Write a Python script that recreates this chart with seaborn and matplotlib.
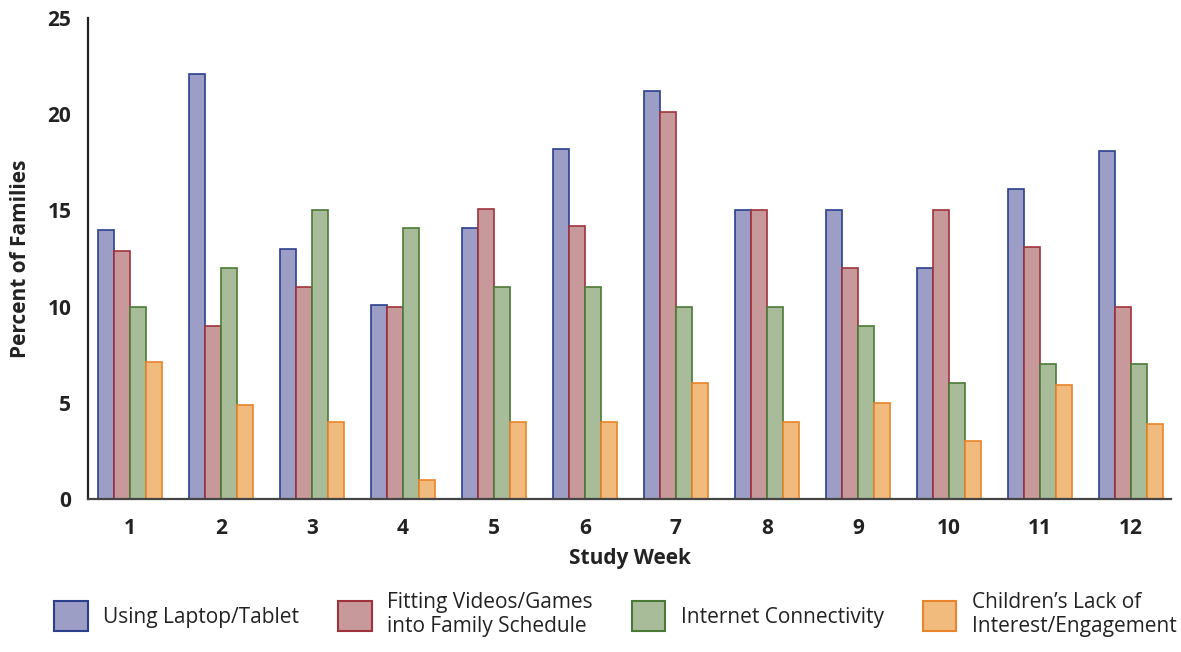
import pandas as pd
import numpy as np
import matplotlib
matplotlib.use("Agg")
import matplotlib.pyplot as plt
import seaborn as sns

weeks = [str(w) for w in range(1, 13)]
laptop = [14.0, 22.1, 13.0, 10.1, 14.1, 18.2, 21.2, 15.0, 15.0, 12.0, 16.1, 18.1]
schedule = [12.9, 9.0, 11.0, 10.0, 15.1, 14.2, 20.1, 15.0, 12.0, 15.0, 13.1, 10.0]
internet = [10.0, 12.0, 15.0, 14.1, 11.0, 11.0, 10.0, 10.0, 9.0, 6.0, 7.0, 7.0]
interest = [7.1, 4.9, 4.0, 1.0, 4.0, 4.0, 6.0, 4.0, 5.0, 3.0, 5.9, 3.9]

series = ["Using Laptop/Tablet", "Fitting Videos/Games\ninto Family Schedule",
          "Internet Connectivity", "Children\u2019s Lack of\nInterest/Engagement"]
fills = ["#9d9ec6", "#c8999b", "#a9bc9a", "#f2bb7e"]
edges = ["#2b3f8f", "#a0323c", "#4a7a35", "#e8842a"]

df = pd.DataFrame({
    "week": weeks * 4,
    "value": laptop + schedule + internet + interest,
    "series": np.repeat(series, len(weeks)),
})

sns.set_theme(style="white")
plt.rcParams["font.family"] = ["Open Sans", "DejaVu Sans"]
txt = "#222222"

fig = plt.figure(figsize=(11.81, 6.52), dpi=100)
ax = fig.add_axes([0.0745, 0.235, 0.917, 0.737])

sns.barplot(data=df, x="week", y="value", hue="series", palette=fills,
            saturation=1, width=0.7, ax=ax, legend=False)

for cont, ec in zip(ax.containers, edges):
    for bar in cont:
        bar.set_edgecolor(ec)
        bar.set_linewidth(1.2)

ax.set_ylim(0, 25)
ax.set_xlim(-0.46, 11.44)
ax.set_yticks([0, 5, 10, 15, 20, 25])
ax.tick_params(axis="both", length=0, labelsize=15, colors=txt)
ax.tick_params(axis="x", pad=14)
ax.tick_params(axis="y", pad=12)
for t in ax.get_xticklabels() + ax.get_yticklabels():
    t.set_fontweight("bold")
ax.set_xlabel("Study Week", fontsize=15, fontweight="bold", color=txt, labelpad=6)
ax.set_ylabel("Percent of Families", fontsize=15, fontweight="bold", color=txt, labelpad=12)
sns.despine(ax=ax)
ax.spines["left"].set_color("#222222")
ax.spines["bottom"].set_color("#444444")
ax.spines["left"].set_linewidth(1.6)
ax.spines["bottom"].set_linewidth(1.6)

handles = [plt.Rectangle((0, 0), 1, 1, facecolor=f, edgecolor=e, linewidth=1.5)
           for f, e in zip(fills, edges)]
fig.legend(handles, series, loc="upper left", bbox_to_anchor=(0.046, 0.0, 0.95, 0.092),
           ncol=4, mode="expand", frameon=False, fontsize=15,
           handlelength=1.6, handleheight=1.8, handletextpad=0.75,
           borderaxespad=0, borderpad=0, labelcolor=txt)

fig.savefig("out.png", dpi=100)
